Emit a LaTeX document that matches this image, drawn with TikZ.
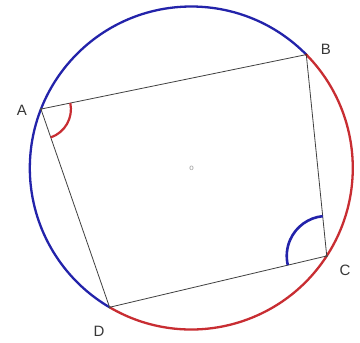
\documentclass[tikz,border=0pt]{standalone}
\usepackage{fontspec}
\setmainfont{Liberation Sans}
\definecolor{arcblue}{RGB}{35,35,170}
\definecolor{arcred}{RGB}{200,45,50}
\definecolor{lbl}{RGB}{55,55,55}
\begin{document}
\begin{tikzpicture}[x=1pt,y=1pt,
  side/.style={draw=black!75,line width=0.8pt},
  bluearc/.style={draw=arcblue,line width=2.3pt},
  redarc/.style={draw=arcred,line width=2.3pt},
  vlabel/.style={text=lbl,font=\fontsize{15}{18}\selectfont,inner sep=0pt},
  vdot/.style={fill=black!70,draw=none,circle,inner sep=0pt,minimum size=2.5pt}]
\useasboundingbox[fill=white] (0,0) rectangle (360,343);
\coordinate (O) at (191.3,175);
\path (O) ++(158.6:161.5) coordinate (A);
\path (O) ++(44.6:161.5) coordinate (B);
\path (O) ++(-33:161.5) coordinate (C);
\path (O) ++(239.6:161.5) coordinate (D);
% circle arcs
\draw[bluearc] (B) arc[start angle=44.6,end angle=239.6,radius=161.5];
\draw[redarc] (D) arc[start angle=239.6,end angle=404.6,radius=161.5];
% quadrilateral
\draw[side] (A) -- (B) -- (C) -- (D) -- cycle;
% angle marks
\draw[redarc,line width=2.2pt] ([shift={(-70.9:30)}]A) arc[start angle=-70.9,end angle=11.6,radius=30];
\draw[bluearc,line width=2.6pt] ([shift={(95.8:40)}]C) arc[start angle=95.8,end angle=193.3,radius=40];
% vertex dots
\node[vdot] (Ad) at (A) {};
\node[vdot,fill=arcred!60!black] (Bd) at (B) {};
\node[vdot] (Cd) at (C) {};
\node[vdot] (Dd) at (D) {};
% labels
\node[vlabel] (LA) at (22,233) {A};
\node[vlabel] (LB) at (326,294) {B};
\node[vlabel] (LC) at (345,73) {C};
\node[vlabel] (LD) at (99,12) {D};
\node[text=black!40,font=\fontsize{8}{9}\selectfont,inner sep=0pt] (Om) at (191.7,174.7) {o};
\end{tikzpicture}
\end{document}
